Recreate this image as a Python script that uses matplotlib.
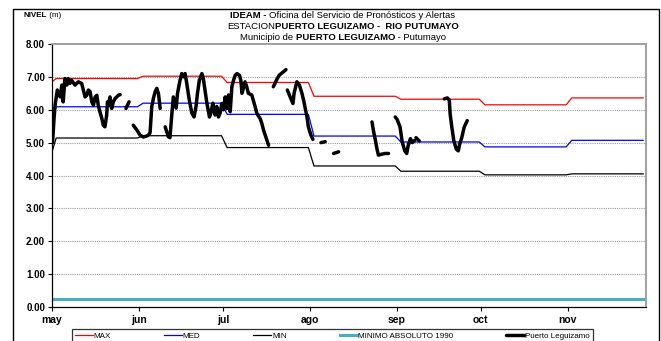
import numpy as np
import matplotlib
matplotlib.use("Agg")
import matplotlib.pyplot as plt
from matplotlib.patches import Rectangle
from matplotlib.offsetbox import TextArea, HPacker, VPacker, AnchoredOffsetbox

plt.rcParams['font.family'] = ['Liberation Sans', 'DejaVu Sans']

nan = float('nan')

months = ['may', 'jun', 'jul', 'ago', 'sep', 'oct', 'nov']
month_days = [31, 30, 31, 31, 30, 31, 30]

# monthly reference levels (m); first value = end of april
max_lvl = [6.85, 6.95, 7.02, 6.83, 6.41, 6.32, 6.15, 6.36]
med_lvl = [5.78, 6.09, 6.20, 5.86, 5.20, 5.02, 4.87, 5.07]
min_lvl = [4.72, 5.14, 5.21, 4.85, 4.29, 4.13, 4.02, 4.05]
min_abs_1990 = 0.25

# Puerto Leguizamo readings: days since 1 may, level (m); nan = no data
obs_day = [0.2, 0.7, 1.1, 1.9, 2.9, 3.5, 4.0, 4.6, 5.3, 5.8, 6.4, 7.0, 8.2, 9.4,
           10.6, 11.2, 11.8, 12.4, 13.0, 13.6, 14.2, 14.8, 15.4, 16.0, 16.5, 17.1,
           17.8, 18.3, 18.9, 19.5, 19.8, 20.1, 20.7, 21.3, 21.9, 22.5, 23.1, 23.7,
           24.3, nan,
           26.4, 27.5, nan,
           29.0, 30.3, 31.4, 32.6, 33.8, 34.4, 35.0, 35.6, 36.2, 36.8, 37.4, 38.0,
           38.6, nan,
           40.4, 41.5, 42.1, 42.8, 43.3, 44.3, 44.8, 45.7, 46.3, 46.9, 47.5, 48.1,
           49.0, 49.9, 50.7, 51.4, 51.9, 52.6, 53.5, 54.0, 54.6, 55.3, 56.2, 56.7,
           57.4, 57.6, 58.2, 58.8, 59.4, 60.0, 60.6, 61.2, 61.8, 62.4, 63.0, 63.6,
           64.2, 64.8, 65.4, 66.0, 66.9, 67.4, 67.8, 68.3, 68.9, 69.5, 70.1, 71.3,
           72.5, 73.1, 74.3, 74.9, 75.5, 76.1, 77.3, nan,
           79.0, 80.4, 81.1, 82.1, 83.5, nan,
           84.0, 85.0, 86.0, 86.4, 87.4, 88.3, 89.2, 89.8, 90.4, 91.0, 91.5, 92.4,
           93.1, nan,
           96.0, 97.5, nan,
           100.5, 102.3, nan,
           114.2, 114.8, 115.4, 116.0, 116.5, 117.8, 118.9, 120.1, nan,
           122.5, 123.2, 124.2, 125.0, 125.9, 126.6, 127.1, 127.9, 128.6, 129.3, nan,
           129.9, 131.1, nan,
           140.0, 141.1, 141.8, 142.1, 142.7, 143.4, 144.3, 145.0, 145.5, 146.3,
           147.1, 148.2]
obs_lvl = [5.00, 5.70, 6.14, 6.60, 6.39, 6.75, 6.24, 6.95, 6.75, 6.95, 6.80, 6.90, 6.75, 6.85,
           6.80, 6.60, 6.39, 6.44, 6.60, 6.55, 6.24, 6.14, 6.39, 6.44, 6.14, 5.94,
           5.73, 5.53, 5.48, 5.83, 6.24, 6.14, 6.39, 6.04, 6.24, 6.34, 6.39, 6.44,
           6.46, nan,
           6.04, 6.24, nan,
           5.53, 5.38, 5.23, 5.17, 5.20, 5.23, 5.30, 6.09, 6.35, 6.54, 6.65, 6.49,
           6.04, nan,
           5.48, 5.18, 5.15, 5.90, 6.39, 6.05, 6.50, 6.90, 7.10, 7.00, 7.10, 6.80,
           6.29, 5.90, 5.78, 6.10, 6.49, 6.90, 7.10, 6.95, 6.60, 6.19, 5.78, 5.90,
           6.20, 6.10, 5.84, 6.10, 5.78, 5.90, 6.19, 6.00, 6.39, 6.04, 6.45, 5.94,
           6.70, 6.90, 7.05, 7.10, 7.05, 6.90, 6.50, 6.65, 6.85, 6.70, 6.50, 6.45,
           6.09, 5.89, 5.73, 5.58, 5.38, 5.23, 4.92, nan,
           6.70, 6.95, 7.05, 7.12, 7.22, nan,
           6.60, 6.39, 6.19, 6.50, 6.85, 6.75, 6.50, 6.29, 6.04, 5.78, 5.48, 5.23,
           5.10, nan,
           5.00, 5.03, nan,
           4.67, 4.72, nan,
           5.63, 5.33, 5.08, 4.80, 4.62, 4.65, 4.67, 4.67, nan,
           5.78, 5.70, 5.48, 5.02, 4.75, 4.67, 4.90, 5.12, 5.00, 5.06, nan,
           5.15, 5.05, nan,
           6.33, 6.36, 6.29, 5.87, 5.47, 5.06, 4.80, 4.75, 4.95, 5.17,
           5.47, 5.67]

starts = np.concatenate([[0], np.cumsum(month_days)[:-1]])
x_end = 211


def step_line(vals):
    xs, ys = [0], [vals[0]]
    for s, n, v in zip(starts, month_days, vals[1:]):
        xs += [s + 1.5, min(s + n - 0.5, x_end)]
        ys += [v, v]
    return xs, ys


fig = plt.figure(figsize=(6.61, 3.41), dpi=100)
ax = fig.add_axes([52 / 661, 1 - 307 / 341, 594 / 661, 263 / 341])

for y in range(1, 8):
    ax.axhline(y, color='#9a9a9a', lw=0.8, ls=(0, (1, 1)), zorder=0)

ax.plot(*step_line(max_lvl), color='red', lw=0.9, label='MAX')
ax.plot(*step_line(med_lvl), color='blue', lw=0.9, label='MED')
ax.plot(*step_line(min_lvl), color='black', lw=0.9, label='MIN')
ax.plot([0, x_end], [min_abs_1990, min_abs_1990], color='#4bacc6', lw=2.2,
        label='MINIMO ABSOLUTO 1990')
ax.plot(obs_day, obs_lvl, color='black', lw=2.5, solid_capstyle='round',
        solid_joinstyle='round', label='Puerto Leguizamo')

ax.set_xlim(0, 212)
ax.set_ylim(0, 8)
ax.set_yticks(np.arange(0, 9))
ax.set_yticklabels(['%.2f' % v for v in np.arange(0, 9)], fontsize=7, fontweight='bold')
ax.set_xticks(starts)
ax.set_xticklabels(months, fontsize=7.5, fontweight='bold')
ax.tick_params(axis='y', direction='out', length=3, width=0.8, pad=2)
ax.tick_params(axis='x', direction='out', length=3, width=0.8, pad=3)

for side in ['top', 'right']:
    ax.spines[side].set_color('#a0a0a0')
    ax.spines[side].set_linewidth(1.4)
for side in ['left', 'bottom']:
    ax.spines[side].set_color('black')
    ax.spines[side].set_linewidth(0.9)

leg = ax.legend(loc='upper left', bbox_to_anchor=(72 / 661, 1 - 329 / 341 - 0.03, 521 / 661, 0.03),
                bbox_transform=fig.transFigure, ncol=5, mode='expand', fontsize=5.8,
                frameon=True, fancybox=False, edgecolor='black', handlelength=2.2,
                handletextpad=0.1, borderaxespad=0, borderpad=0.4)
leg.get_frame().set_linewidth(0.9)

# outer frame
fig.add_artist(Rectangle((13 / 661, -0.1), 646 / 661, 1 - 9 / 341 + 0.1,
                         transform=fig.transFigure, fill=False, ec='black', lw=1))


def rich_line(parts, size):
    boxes = [TextArea(t, textprops=dict(fontsize=size, fontweight=w)) for t, w in parts]
    return HPacker(children=boxes, align='baseline', pad=0, sep=0)


title = VPacker(children=[
    rich_line([('IDEAM - ', 'bold'), ('Oficina del Servicio de Pronósticos y Alertas', 'normal')], 6.8),
    rich_line([('ESTACION', 'normal'), ('PUERTO LEGUIZAMO -  RIO PUTUMAYO', 'bold')], 6.8),
    rich_line([('Municipio de ', 'normal'), ('PUERTO LEGUIZAMO', 'bold'), (' - Putumayo', 'normal')], 6.8),
], align='center', pad=0, sep=1.3)
fig.add_artist(AnchoredOffsetbox(loc='upper center', child=title, pad=0, borderpad=0,
                                 frameon=False, bbox_to_anchor=(343 / 661, 1 - 11 / 341),
                                 bbox_transform=fig.transFigure))

nivel = rich_line([('NIVEL', 'bold'), (' (m)', 'normal')], 5.8)
fig.add_artist(AnchoredOffsetbox(loc='upper left', child=nivel, pad=0, borderpad=0,
                                 frameon=False, bbox_to_anchor=(24 / 661, 1 - 12 / 341),
                                 bbox_transform=fig.transFigure))

fig.savefig('out.png', dpi=100)
